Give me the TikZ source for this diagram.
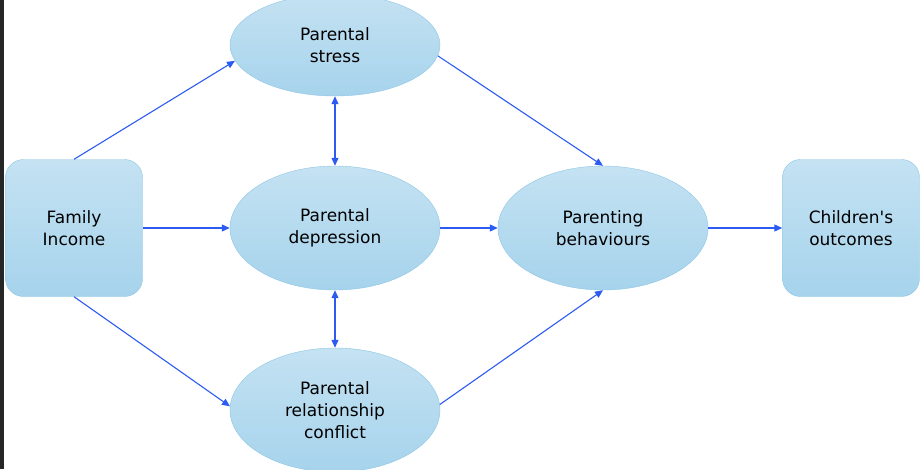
\documentclass[tikz,border=0pt]{standalone}
\usepackage{fontspec}
\setmainfont{DejaVu Sans}
\usetikzlibrary{shapes.geometric,arrows.meta}
\definecolor{ftop}{HTML}{C4E2F2}
\definecolor{fbot}{HTML}{A6D3EC}
\definecolor{bord}{HTML}{8CC6E6}
\definecolor{arr}{HTML}{2B5BF0}
\tikzset{
  box/.style={draw=bord,top color=ftop,bottom color=fbot,rounded corners=18pt,minimum width=137pt,minimum height=137pt,inner sep=0pt,align=center,font=\fontsize{17pt}{22pt}\selectfont},
  ell/.style={ellipse,draw=bord,top color=ftop,bottom color=fbot,minimum width=210pt,minimum height=124pt,inner sep=0pt,align=center,font=\fontsize{17pt}{22pt}\selectfont},
  con/.style={draw=arr,line width=1.1pt,-{Triangle[length=8pt,width=7pt]}},
  bcon/.style={draw=arr,line width=1.1pt,{Triangle[length=8pt,width=7pt]}-{Triangle[length=8pt,width=7pt]}}
}
\begin{document}
\begin{tikzpicture}[x=1pt,y=-1pt]
\useasboundingbox (0,0) rectangle (921,469);
\fill[black!85] (0,0) rectangle (4,469);
\node[box] (fam) at (74,228) {Family\\Income};
\node[box] (chi) at (851,228) {Children\textquotesingle s\\outcomes};
\node[ell,minimum height=102pt] (str) at (335,45) {Parental\\stress};
\node[ell] (dep) at (335,228) {Parental\\depression};
\node[ell] (con) at (335,410) {Parental\\relationship\\conflict};
\node[ell] (beh) at (603,228) {Parenting\\behaviours};
\draw[con] (fam.north) -- (str.189);
\draw[con] (fam.east) -- (dep.west);
\draw[con] (fam.south) -- (con.178);
\draw[bcon] (str.south) -- (dep.north);
\draw[bcon] (dep.south) -- (con.north);
\draw[con] (str.-6) -- (beh.north);
\draw[con] (dep.east) -- (beh.west);
\draw[con] (con.3) -- (beh.south);
\draw[con] (beh.east) -- (chi.west);
\end{tikzpicture}
\end{document}
